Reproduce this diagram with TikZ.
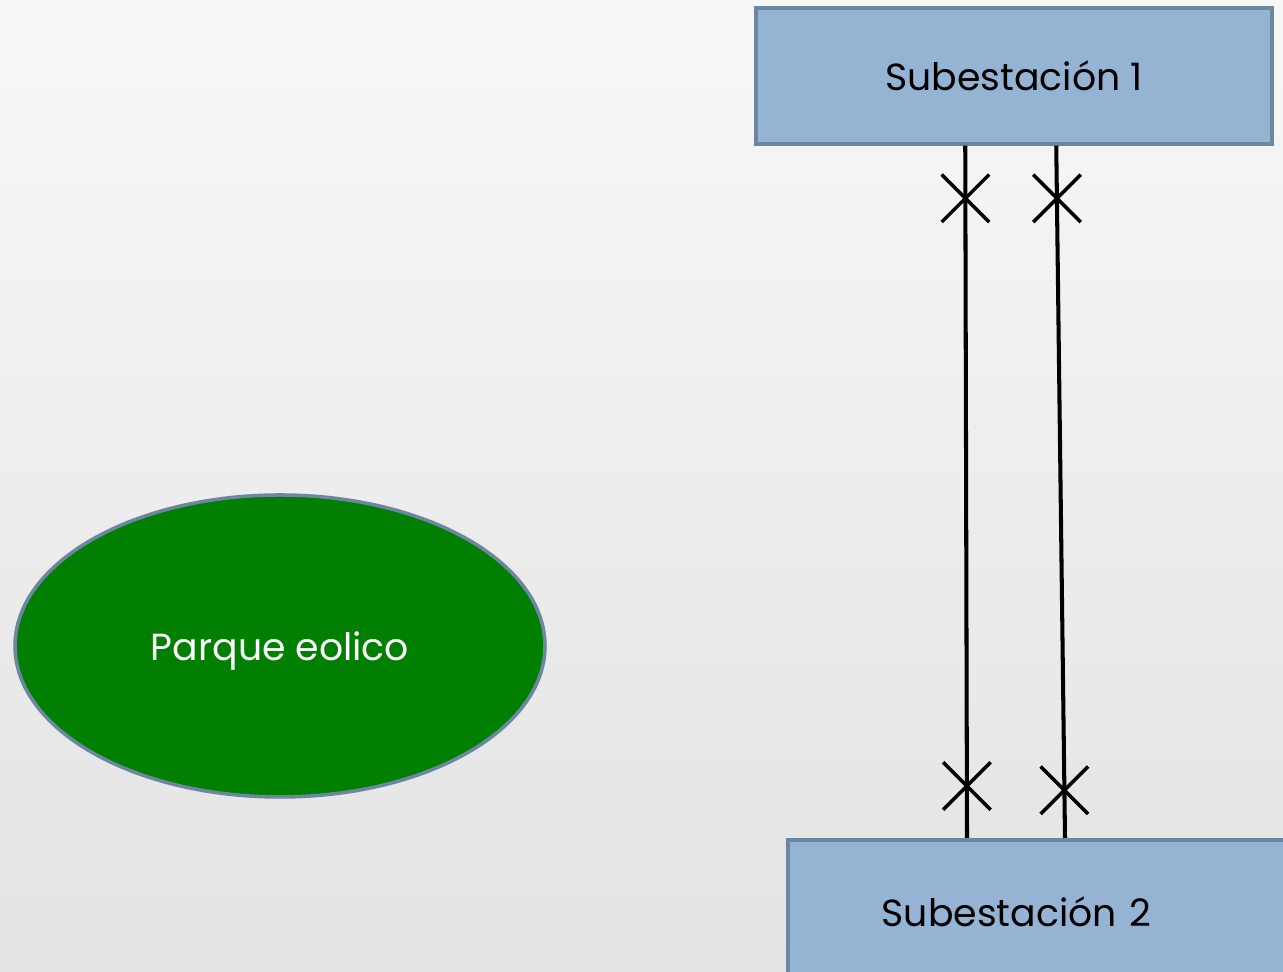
\documentclass[tikz,border=0pt]{standalone}
\usepackage{fontspec}
\setmainfont{Poppins}
\usetikzlibrary{shapes.geometric,shapes.misc,calc}
\definecolor{boxfill}{HTML}{95B3D3}
\definecolor{boxline}{HTML}{6E87A0}
\definecolor{parkgreen}{HTML}{007F00}
\begin{document}
\begin{tikzpicture}[
  subbox/.style={draw=boxline, fill=boxfill, line width=2pt, inner sep=0pt, font=\fontsize{21.5}{25}\selectfont},
  park/.style={ellipse, draw=boxline, fill=parkgreen, line width=2pt, inner sep=0pt, text depth=0pt,
    minimum width=10.6cm, minimum height=6.04cm, text=white, font=\fontsize{21.5}{25}\selectfont},
  feeder/.style={line width=2.3pt},
  breaker/.style={cross out, draw, line width=2pt, inner sep=0pt, minimum size=0.88cm}]
\shade[top color=black!3, bottom color=black!11] (0,0) rectangle (25.66,19.44);
\useasboundingbox (0,0) rectangle (25.66,19.44);
\node[subbox, minimum width=10.32cm, minimum height=2.72cm] (sub1) at (20.28,17.92) {Subestación 1};
\node[subbox, anchor=north west, minimum height=2.88cm, inner xsep=1.88cm, text width=8cm, align=left] (sub2) at (15.72,2.68) {Subestación 2};
\node[park] (park) at (5.6,6.52) {Parque eolico};
\coordinate (a1) at ($(sub1.south west)+(4.22,0)$);
\coordinate (a2) at ($(sub1.south west)+(6.04,0)$);
\coordinate (b1) at ($(sub2.north west)+(3.62,0)$);
\coordinate (b2) at ($(sub2.north west)+(5.58,0)$);
\draw[feeder] (a1) -- node[breaker, pos=0.076] {} node[breaker, pos=0.925] {} (b1);
\draw[feeder] (a2) -- node[breaker, pos=0.076] {} node[breaker, pos=0.931] {} (b2);
\end{tikzpicture}
\end{document}
